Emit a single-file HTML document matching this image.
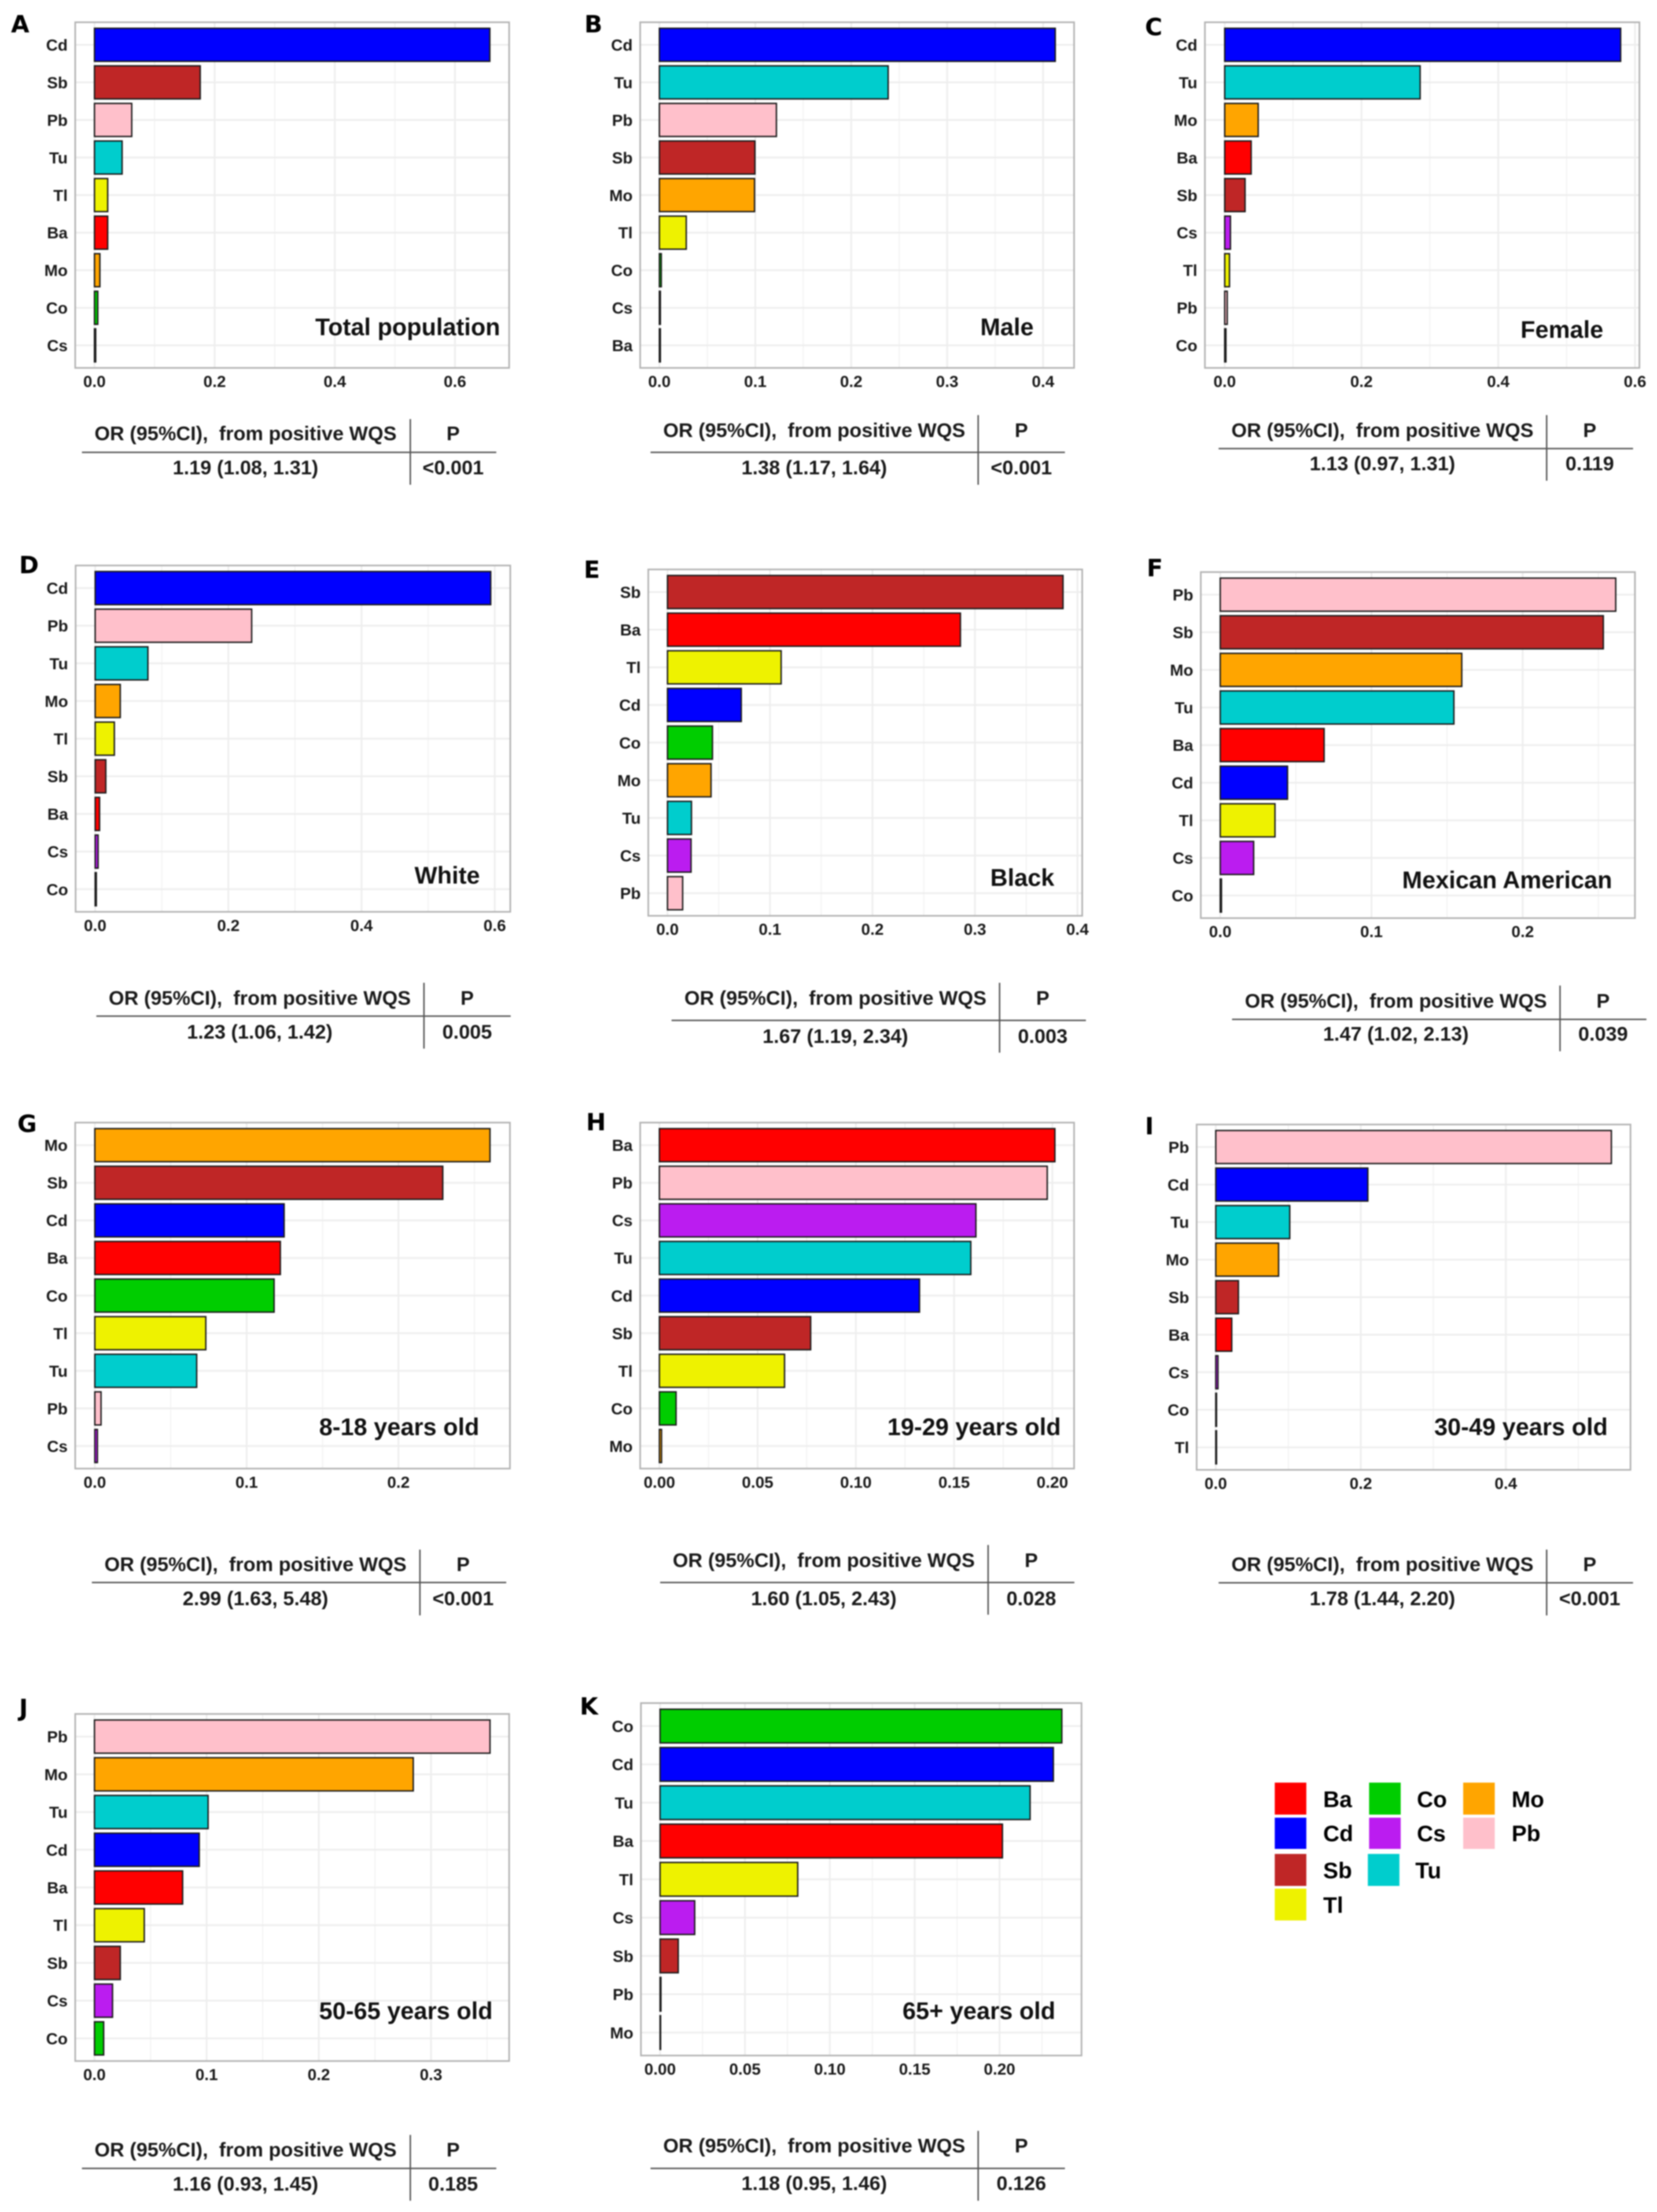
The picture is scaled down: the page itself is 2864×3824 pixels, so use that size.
<!DOCTYPE html>
<html lang="en">
<head>
<meta charset="utf-8">
<title>WQS weights by subgroup</title>
<style>
html,body{margin:0;padding:0;background:#fff;width:2864px;height:3824px;overflow:hidden}
svg{display:block;filter:blur(1px)}
text{font-family:"Liberation Sans",Arial,sans-serif;font-weight:700;fill:#1a1a1a;white-space:pre}
.letter{font-family:"DejaVu Sans",sans-serif;font-size:41px;fill:#000}
.anno{font-size:41.5px;text-anchor:middle;fill:#111}
.th,.td{font-size:34.3px;text-anchor:middle}
.lg{font-size:39px;fill:#000}
.tk{font-size:28px;text-anchor:middle}
.cat{font-size:28px;text-anchor:end}
.rule{stroke:#555;stroke-width:2.5}
</style>
</head>
<body>
<svg id="fig" width="2864" height="3824" viewBox="0 0 2864 3824" xmlns="http://www.w3.org/2000/svg">

<g>
<g id="plot-a"></g>
<text class="letter" x="19" y="56">A</text>
<text class="anno" x="704.7" y="579.7">Total population</text>
<g>
<text class="th" x="424.4" y="761.2">OR (95%CI),  from positive WQS</text>
<text class="th" x="783.2" y="761.2">P</text>
<line class="rule" x1="141.6" x2="857.8" y1="782" y2="782"/>
<line class="rule" x1="709.2" x2="709.2" y1="724.5" y2="838"/>
<text class="td" x="424.4" y="820.2">1.19 (1.08, 1.31)</text>
<text class="td" x="783.2" y="820.2">&lt;0.001</text>
</g>
</g>

<g>
<g id="plot-b"></g>
<text class="letter" x="1010" y="56">B</text>
<text class="anno" x="1740.5" y="579.7">Male</text>
<g>
<text class="th" x="1407.3" y="755.6">OR (95%CI),  from positive WQS</text>
<text class="th" x="1765.3" y="755.6">P</text>
<line class="rule" x1="1124.4" x2="1840.6" y1="782" y2="782"/>
<line class="rule" x1="1690.7" x2="1690.7" y1="717.6" y2="838"/>
<text class="td" x="1407.3" y="820.2">1.38 (1.17, 1.64)</text>
<text class="td" x="1765.3" y="820.2">&lt;0.001</text>
</g>
</g>

<g>
<g id="plot-c"></g>
<text class="letter" x="1979" y="61">C</text>
<text class="anno" x="2699.7" y="584.2">Female</text>
<g>
<text class="th" x="2389.5" y="755.6">OR (95%CI),  from positive WQS</text>
<text class="th" x="2747.7" y="755.6">P</text>
<line class="rule" x1="2106.3" x2="2822.6" y1="775.5" y2="775.5"/>
<line class="rule" x1="2673.3" x2="2673.3" y1="717.6" y2="831"/>
<text class="td" x="2389.5" y="813">1.13 (0.97, 1.31)</text>
<text class="td" x="2747.7" y="813">0.119</text>
</g>
</g>

<g>
<g id="plot-d"></g>
<text class="letter" x="33" y="991">D</text>
<text class="anno" x="773" y="1527.3">White</text>
<g>
<text class="th" x="449" y="1737.2">OR (95%CI),  from positive WQS</text>
<text class="th" x="807.4" y="1737.2">P</text>
<line class="rule" x1="166.5" x2="882.7" y1="1756.6" y2="1756.6"/>
<line class="rule" x1="732.8" x2="732.8" y1="1699" y2="1812.8"/>
<text class="td" x="449" y="1795.7">1.23 (1.06, 1.42)</text>
<text class="td" x="807.4" y="1795.7">0.005</text>
</g>
</g>

<g>
<g id="plot-e"></g>
<text class="letter" x="1009" y="999">E</text>
<text class="anno" x="1767" y="1531.3">Black</text>
<g>
<text class="th" x="1443.9" y="1737.2">OR (95%CI),  from positive WQS</text>
<text class="th" x="1802.3" y="1737.2">P</text>
<line class="rule" x1="1160.7" x2="1876.9" y1="1764" y2="1764"/>
<line class="rule" x1="1727.7" x2="1727.7" y1="1699" y2="1819.7"/>
<text class="td" x="1443.9" y="1803.2">1.67 (1.19, 2.34)</text>
<text class="td" x="1802.3" y="1803.2">0.003</text>
</g>
</g>

<g>
<g id="plot-f"></g>
<text class="letter" x="1982" y="996">F</text>
<text class="anno" x="2605" y="1535.7">Mexican American</text>
<g>
<text class="th" x="2412.7" y="1741.8">OR (95%CI),  from positive WQS</text>
<text class="th" x="2770.8" y="1741.8">P</text>
<line class="rule" x1="2129.5" x2="2845.7" y1="1762.3" y2="1762.3"/>
<line class="rule" x1="2696.4" x2="2696.4" y1="1703.7" y2="1817.4"/>
<text class="td" x="2412.7" y="1799.2">1.47 (1.02, 2.13)</text>
<text class="td" x="2770.8" y="1799.2">0.039</text>
</g>
</g>

<g>
<g id="plot-g"></g>
<text class="letter" x="30" y="1957">G</text>
<text class="anno" x="690" y="2481.2">8-18 years old</text>
<g>
<text class="th" x="441.6" y="2715.8">OR (95%CI),  from positive WQS</text>
<text class="th" x="800.4" y="2715.8">P</text>
<line class="rule" x1="158.8" x2="875" y1="2735.7" y2="2735.7"/>
<line class="rule" x1="725.8" x2="725.8" y1="2678.9" y2="2792.6"/>
<text class="td" x="441.6" y="2774.9">2.99 (1.63, 5.48)</text>
<text class="td" x="800.4" y="2774.9">&lt;0.001</text>
</g>
</g>

<g>
<g id="plot-h"></g>
<text class="letter" x="1013" y="1954">H</text>
<text class="anno" x="1683.7" y="2481.2">19-29 years old</text>
<g>
<text class="th" x="1423.8" y="2708.9">OR (95%CI),  from positive WQS</text>
<text class="th" x="1782.5" y="2708.9">P</text>
<line class="rule" x1="1141" x2="1857" y1="2735.7" y2="2735.7"/>
<line class="rule" x1="1707.9" x2="1707.9" y1="2670.9" y2="2791.4"/>
<text class="td" x="1423.8" y="2774.9">1.60 (1.05, 2.43)</text>
<text class="td" x="1782.5" y="2774.9">0.028</text>
</g>
</g>

<g>
<g id="plot-i"></g>
<text class="letter" x="1979" y="1961">I</text>
<text class="anno" x="2628.9" y="2481.2">30-49 years old</text>
<g>
<text class="th" x="2389.5" y="2715.8">OR (95%CI),  from positive WQS</text>
<text class="th" x="2747.7" y="2715.8">P</text>
<line class="rule" x1="2106.3" x2="2822.6" y1="2736.3" y2="2736.3"/>
<line class="rule" x1="2673.3" x2="2673.3" y1="2678.9" y2="2792.6"/>
<text class="td" x="2389.5" y="2774.9">1.78 (1.44, 2.20)</text>
<text class="td" x="2747.7" y="2774.9">&lt;0.001</text>
</g>
</g>

<g>
<g id="plot-j"></g>
<text class="letter" x="33" y="2967">J</text>
<text class="anno" x="701.5" y="3490.4">50-65 years old</text>
<g>
<text class="th" x="424.4" y="3728.2">OR (95%CI),  from positive WQS</text>
<text class="th" x="783.2" y="3728.2">P</text>
<line class="rule" x1="141.6" x2="857.8" y1="3748.6" y2="3748.6"/>
<line class="rule" x1="709.2" x2="709.2" y1="3690.8" y2="3804.5"/>
<text class="td" x="424.4" y="3787.2">1.16 (0.93, 1.45)</text>
<text class="td" x="783.2" y="3787.2">0.185</text>
</g>
</g>

<g>
<g id="plot-k"></g>
<text class="letter" x="1002" y="2964">K</text>
<text class="anno" x="1692" y="3490.4">65+ years old</text>
<g>
<text class="th" x="1407.3" y="3721.2">OR (95%CI),  from positive WQS</text>
<text class="th" x="1765.3" y="3721.2">P</text>
<line class="rule" x1="1124.4" x2="1840.6" y1="3748.6" y2="3748.6"/>
<line class="rule" x1="1690.7" x2="1690.7" y1="3683.7" y2="3804.5"/>
<text class="td" x="1407.3" y="3786.1">1.18 (0.95, 1.46)</text>
<text class="td" x="1765.3" y="3786.1">0.126</text>
</g>
</g>

<g>
<g><rect x="2203.3" y="3081.7" width="54.6" height="55.3" fill="#ff0000"/><text class="lg" x="2287" y="3124">Ba</text></g>
<g><rect x="2203.3" y="3142.3" width="54.6" height="54" fill="#0000ff"/><text class="lg" x="2287" y="3183">Cd</text></g>
<g><rect x="2203.3" y="3205" width="54.6" height="55.3" fill="#bf2626"/><text class="lg" x="2287" y="3247">Sb</text></g>
<g><rect x="2203.3" y="3265" width="54.6" height="55" fill="#eef200"/><text class="lg" x="2287" y="3307">Tl</text></g>
<g><rect x="2366.4" y="3081.7" width="54.6" height="55.3" fill="#00cd00"/><text class="lg" x="2449" y="3124">Co</text></g>
<g><rect x="2366.4" y="3142.3" width="54.6" height="54" fill="#bb1cf0"/><text class="lg" x="2449" y="3183">Cs</text></g>
<g><rect x="2364.2" y="3205" width="54.6" height="55.3" fill="#00cdcd"/><text class="lg" x="2446.3" y="3247">Tu</text></g>
<g><rect x="2529" y="3081.7" width="54.6" height="55.3" fill="#ffa500"/><text class="lg" x="2612.7" y="3124">Mo</text></g>
<g><rect x="2529" y="3142.3" width="54.6" height="54" fill="#ffc0cb"/><text class="lg" x="2612.7" y="3183">Pb</text></g>
</g>
</svg>

<script>
const catsA = ['Cd','Sb','Pb','Tu','Tl','Ba','Mo','Co','Cs'];
const valsA = [0.658,0.176,0.062,0.046,0.022,0.022,0.009,0.0055,0.002];
const tickLabelsA = ['0.0','0.2','0.4','0.6'];

const catsB = ['Cd','Tu','Pb','Sb','Mo','Tl','Co','Cs','Ba'];
const valsB = [0.4127,0.2385,0.122,0.0996,0.0992,0.028,0.002,0.001,0.001];
const tickLabelsB = ['0.0','0.1','0.2','0.3','0.4'];

const catsC = ['Cd','Tu','Mo','Ba','Sb','Cs','Tl','Pb','Co'];
const valsC = [0.579,0.2858,0.049,0.0387,0.0298,0.0084,0.007,0.0037,0.0018];
const tickLabelsC = ['0.0','0.2','0.4','0.6'];

const catsD = ['Cd','Pb','Tu','Mo','Tl','Sb','Ba','Cs','Co'];
const valsD = [0.594,0.235,0.0792,0.0377,0.0288,0.016,0.0066,0.0044,0.0017];
const tickLabelsD = ['0.0','0.2','0.4','0.6'];

const catsE = ['Sb','Ba','Tl','Cd','Co','Mo','Tu','Cs','Pb'];
const valsE = [0.3859,0.2858,0.1109,0.072,0.0439,0.0425,0.0234,0.023,0.0148];
const tickLabelsE = ['0.0','0.1','0.2','0.3','0.4'];

const catsF = ['Pb','Sb','Mo','Tu','Ba','Cd','Tl','Cs','Co'];
const valsF = [0.2615,0.2533,0.1597,0.1545,0.0687,0.0445,0.0362,0.0221,0.0008];
const tickLabelsF = ['0.0','0.1','0.2'];

const catsG = ['Mo','Sb','Cd','Ba','Co','Tl','Tu','Pb','Cs'];
const valsG = [0.2603,0.2292,0.1247,0.1222,0.1181,0.0731,0.0671,0.0041,0.0017];
const tickLabelsG = ['0.0','0.1','0.2'];

const catsH = ['Ba','Pb','Cs','Tu','Cd','Sb','Tl','Co','Mo'];
const valsH = [0.2013,0.1974,0.1611,0.1585,0.1324,0.077,0.0637,0.0085,0.0011];
const tickLabelsH = ['0.00','0.05','0.10','0.15','0.20'];

const catsI = ['Pb','Cd','Tu','Mo','Sb','Ba','Cs','Co','Tl'];
const valsI = [0.5455,0.2097,0.102,0.0866,0.0312,0.022,0.003,0.001,0.001];
const tickLabelsI = ['0.0','0.2','0.4'];

const catsJ = ['Pb','Mo','Tu','Cd','Ba','Tl','Sb','Cs','Co'];
const valsJ = [0.3526,0.2842,0.1013,0.0934,0.0786,0.0444,0.023,0.0161,0.0082];
const tickLabelsJ = ['0.0','0.1','0.2','0.3'];

const catsK = ['Co','Cd','Tu','Ba','Tl','Cs','Sb','Pb','Mo'];
const valsK = [0.2367,0.2317,0.218,0.2017,0.0811,0.0204,0.0107,0.0005,0.0003];
const tickLabelsK = ['0.00','0.05','0.10','0.15','0.20'];

const metalColors = {Ba:'#ff0000',Cd:'#0000ff',Sb:'#bf2626',Tl:'#eef200',Co:'#00cd00',Cs:'#bb1cf0',Tu:'#00cdcd',Mo:'#ffa500',Pb:'#ffc0cb'};

const panels = [
  {id:'a',cats:catsA,vals:valsA,ticks:tickLabelsA,left:130,right:880,top:38.5,bottom:636,zero:163.3,unit:1038.5},
  {id:'b',cats:catsB,vals:valsB,ticks:tickLabelsB,left:1106.5,right:1856.5,top:38.5,bottom:636,zero:1139.7,unit:1658},
  {id:'c',cats:catsC,vals:valsC,ticks:tickLabelsC,left:2082.6,right:2833.6,top:38.5,bottom:636,zero:2116.8,unit:1182},
  {id:'d',cats:catsD,vals:valsD,ticks:tickLabelsD,left:130.7,right:882,top:977.6,bottom:1576.3,zero:164.5,unit:1151},
  {id:'e',cats:catsE,vals:valsE,ticks:tickLabelsE,left:1120.5,right:1870.5,top:984.4,bottom:1583.2,zero:1153.7,unit:1771.6},
  {id:'f',cats:catsF,vals:valsF,ticks:tickLabelsF,left:2075.5,right:2825.9,top:989,bottom:1587.2,zero:2109.1,unit:2614},
  {id:'g',cats:catsG,vals:valsG,ticks:tickLabelsG,left:130,right:881.4,top:1940.7,bottom:2538.8,zero:163.9,unit:2624},
  {id:'h',cats:catsH,vals:valsH,ticks:tickLabelsH,left:1106.5,right:1856.5,top:1940.7,bottom:2538.8,zero:1139.7,unit:3396},
  {id:'i',cats:catsI,vals:valsI,ticks:tickLabelsI,left:2068.3,right:2818.2,top:1944,bottom:2541,zero:2101.4,unit:1253.4},
  {id:'j',cats:catsJ,vals:valsJ,ticks:tickLabelsJ,left:130,right:880,top:2963,bottom:3563,zero:163.3,unit:1938.8},
  {id:'k',cats:catsK,vals:valsK,ticks:tickLabelsK,left:1107.8,right:1869.3,top:2944.2,bottom:3553.5,zero:1140.9,unit:2933.7}
];

const NS = 'http://www.w3.org/2000/svg';
function mk(parent, tag, attrs, txt) {
  const el = document.createElementNS(NS, tag);
  for (const k in attrs) el.setAttribute(k, attrs[k]);
  if (txt !== undefined) el.textContent = txt;
  parent.appendChild(el);
  return el;
}
function scaleX(p, v) { return p.zero + v * p.unit; }
function bandStep(p) { return (p.bottom - p.top) / (p.cats.length + 0.2); }
function scaleY(p, i) { return p.top + (i + 0.6) * bandStep(p); }

panels.forEach(function (p) {
  const g = document.getElementById('plot-' + p.id);
  const step = bandStep(p);

  const bg = mk(g, 'rect', {x:p.left, y:p.top, width:p.right - p.left, height:p.bottom - p.top, fill:'#fff'});
  
  

  const tickVals = p.ticks.map(Number);
  const tickGap = tickVals[1] - tickVals[0];
  for (let m = tickVals[0] + tickGap / 2; scaleX(p, m) < p.right; m += tickGap) {
    const minor = mk(g, 'line', {x1:scaleX(p, m), x2:scaleX(p, m), y1:p.top, y2:p.bottom, stroke:'#f3f3f3', 'stroke-width':2});
    
    
  }
  tickVals.forEach(function (t) {
    const major = mk(g, 'line', {x1:scaleX(p, t), x2:scaleX(p, t), y1:p.top, y2:p.bottom, stroke:'#eeeeee', 'stroke-width':3});
    
    
  });
  p.cats.forEach(function (c, i) {
    const hline = mk(g, 'line', {x1:p.left, x2:p.right, y1:scaleY(p, i), y2:scaleY(p, i), stroke:'#eeeeee', 'stroke-width':3});
    
    
  });

  const frame = mk(g, 'rect', {x:p.left, y:p.top, width:p.right - p.left, height:p.bottom - p.top, fill:'none', stroke:'#b3b3b3', 'stroke-width':2.8});
  
  

  p.cats.forEach(function (c, i) {
    const h = 0.88 * step;
    const bar = mk(g, 'rect', {x:scaleX(p, 0), y:scaleY(p, i) - h / 2, width:scaleX(p, p.vals[i]) - scaleX(p, 0), height:h, fill:metalColors[c], stroke:'#1a1a1a', 'stroke-width':2.4});
    
    

    const lab = mk(g, 'text', {class:'cat', x:p.left - 13, y:scaleY(p, i) + 10}, c);
    
    
  });

  p.ticks.forEach(function (t) {
    const tick = mk(g, 'text', {class:'tk', x:scaleX(p, Number(t)), y:p.bottom + 33}, t);
    
    
  });
});
</script>
</body>
</html>
